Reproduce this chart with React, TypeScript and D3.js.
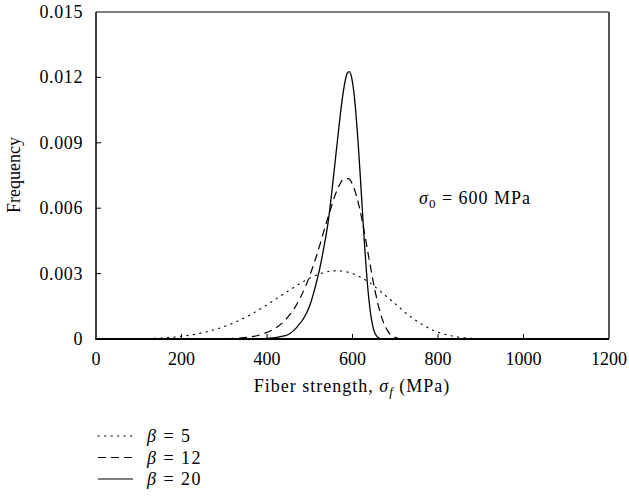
import React from "react";
import * as d3 from "d3";

// Fiber strength (MPa) and frequency values
const beta5X = [0, 90, 140, 190, 240, 290, 340, 390, 440, 490, 515, 540, 565, 590, 615, 640, 690, 740, 790, 840, 890, 940, 990, 1200];
const beta5Y = [0, 0.0000064, 0.0000325, 0.000102, 0.000248, 0.000505, 0.000902, 0.001443, 0.00208, 0.002689, 0.002925, 0.00308, 0.003132, 0.003066, 0.002878, 0.002581, 0.001778, 0.000962, 0.000389, 0.000112, 0.0000213, 0.0000025, 0, 0];

const beta12X = [0, 290, 340, 390, 415, 440, 465, 490, 515, 540, 565, 580, 590, 602.5, 615, 627.5, 640, 652.5, 665, 677.5, 690, 715, 740, 1200];
const beta12Y = [0, 0.0000098, 0.0000532, 0.000229, 0.000443, 0.000818, 0.001441, 0.002406, 0.003764, 0.005401, 0.006872, 0.007341, 0.007358, 0.006971, 0.006127, 0.004917, 0.003536, 0.002229, 0.001199, 0.000533, 0.000189, 0.0000099, 0, 0];

const beta20X = [0, 393, 443, 468, 493, 503, 513, 523, 533, 543, 553, 563, 573, 578, 583, 588, 593, 598, 603, 608, 613, 618, 623, 628, 633, 638, 643, 648, 653, 663, 673, 1200];
const beta20Y = [0, 0.000015, 0.00015, 0.0005, 0.0012, 0.0017, 0.0024, 0.0032, 0.0042, 0.00536, 0.006987, 0.008789, 0.010536, 0.011278, 0.011855, 0.012203, 0.012263, 0.011985, 0.011345, 0.010351, 0.009049, 0.007538, 0.005932, 0.004377, 0.002996, 0.001882, 0.001073, 0.000546, 0.000244, 0.0000307, 0, 0];

const xTicks = [0, 200, 400, 600, 800, 1000, 1200];
const yTicks = [0, 0.003, 0.006, 0.009, 0.012, 0.015];
const yTickLabels = ["0", "0.003", "0.006", "0.009", "0.012", "0.015"];
const legendBetas = ["5", "12", "20"];

const FONT = '"Liberation Serif", "Times New Roman", "DejaVu Serif", "Noto Serif", serif';

export default function App() {
  const W = 629, H = 504;
  const x = d3.scaleLinear().domain([0, 1200]).range([96, 609]);
  const y = d3.scaleLinear().domain([0, 0.015]).range([339, 12]);
  const mk = (xs: number[], ys: number[]) =>
    d3
      .line<number>()
      .x((_, i) => x(xs[i]))
      .y((_, i) => y(ys[i]))
      .curve(d3.curveMonotoneX)(xs) || "";

  const series = [
    { d: mk(beta5X, beta5Y), dash: "1.3,5.2", w: 1.1 },
    { d: mk(beta12X, beta12Y), dash: "8,5", w: 1.2 },
    { d: mk(beta20X, beta20Y), dash: "", w: 1.3 },
  ];

  const legendY = [436, 457.5, 479];
  const ts: React.CSSProperties = { fontFamily: FONT, fontSize: 18 };
  const tsWide: React.CSSProperties = { fontFamily: FONT, fontSize: 18, letterSpacing: 1 };

  return (
    <svg
      width={W}
      height={H}
      style={{ position: "absolute", left: 0, top: 0, background: "#fff" }}
    >
      <rect x={0} y={0} width={W} height={H} fill="#fff" />
      {/* frame */}
      <line x1={x(0)} x2={x(1200)} y1={y(0.015)} y2={y(0.015)} stroke="#000" strokeWidth={1} />
      <line x1={x(1200)} x2={x(1200)} y1={y(0.015)} y2={y(0)} stroke="#555" strokeWidth={2} />
      {/* series */}
      {series.map((s, i) => (
        <path
          key={i}
          d={s.d}
          fill="none"
          stroke="#000"
          strokeWidth={s.w}
          strokeDasharray={s.dash || undefined}
          strokeLinecap={i === 0 ? "round" : "butt"}
        />
      ))}
      {/* axes */}
      <line x1={x(0)} x2={x(1200)} y1={y(0)} y2={y(0)} stroke="#000" strokeWidth={2} />
      <line x1={x(0)} x2={x(0)} y1={y(0.015)} y2={y(0) + 1} stroke="#000" strokeWidth={1.5} />
      {xTicks.map((t) => (
        <g key={t}>
          {t > 0 && t < 1200 && (
            <line x1={x(t)} x2={x(t)} y1={y(0)} y2={y(0) - 5} stroke="#000" strokeWidth={1} />
          )}
          <text x={x(t)} y={365} textAnchor="middle" style={ts} fill="#000">
            {t}
          </text>
        </g>
      ))}
      {yTicks.map((t, i) => (
        <g key={t}>
          {t > 0 && t < 0.015 && (
            <line x1={x(0)} x2={x(0) + 5} y1={y(t)} y2={y(t)} stroke="#000" strokeWidth={1} />
          )}
          <text x={83} y={y(t) + 6} textAnchor="end" style={{ ...ts, letterSpacing: 0.6 }} fill="#000">
            {yTickLabels[i]}
          </text>
        </g>
      ))}
      <text
        transform="translate(20,175) rotate(-90)"
        textAnchor="middle"
        style={ts}
        fill="#000"
      >
        Frequency
      </text>
      <text x={352} y={392} textAnchor="middle" style={tsWide} fill="#000">
        Fiber strength, <tspan fontStyle="italic">σ</tspan>
        <tspan fontStyle="italic" style={{ fontSize: 13 }} dy={4}>f</tspan>
        <tspan dy={-4}> (MPa)</tspan>
      </text>
      <text x={419} y={204} style={tsWide} fill="#000">
        <tspan fontStyle="italic">σ</tspan>
        <tspan style={{ fontSize: 13 }} dy={4}>0</tspan>
        <tspan dy={-4}>{" = 600 MPa"}</tspan>
      </text>
      {/* legend */}
      {legendBetas.map((b, i) => (
        <g key={b}>
          <line
            x1={98}
            x2={133}
            y1={legendY[i]}
            y2={legendY[i]}
            stroke="#000"
            strokeWidth={i === 0 ? 1.1 : 1.2}
            strokeDasharray={series[i].dash || undefined}
            strokeLinecap={i === 0 ? "round" : "butt"}
          />
          <text x={147} y={legendY[i] + 6} style={{ ...ts, letterSpacing: 1.5 }} fill="#000">
            <tspan fontStyle="italic">β</tspan>
            {" = " + b}
          </text>
        </g>
      ))}
    </svg>
  );
}
